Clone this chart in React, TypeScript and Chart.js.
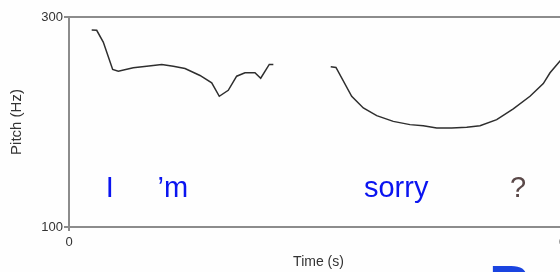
import React, { useEffect, useRef } from "react";
import { Chart, registerables } from "chart.js";

Chart.register(...registerables);

// Contour 1: "I'm"
const timesA = [0.0273, 0.0333, 0.0412, 0.0525, 0.0593, 0.0773, 0.0934, 0.1115, 0.1254, 0.1395, 0.1575, 0.1716, 0.1807, 0.1915, 0.2016, 0.2116, 0.2236, 0.2305, 0.2408, 0.2457];
const pitchA = [287.6, 287.3, 276.1, 250.0, 248.4, 251.6, 253.2, 254.8, 253.2, 251.0, 244.3, 237.3, 224.5, 230.2, 243.6, 246.9, 246.9, 241.7, 254.8, 254.8];

// Contour 2: "sorry?"
const timesB = [0.3147, 0.321, 0.3399, 0.3539, 0.37, 0.3899, 0.41, 0.426, 0.4421, 0.4602, 0.4782, 0.4942, 0.5143, 0.5342, 0.5543, 0.5703, 0.5784, 0.5904, 0.6];
const pitchB = [252.6, 251.9, 224.5, 213.4, 206.1, 200.6, 197.5, 196.5, 194.3, 194.3, 194.9, 196.5, 202.2, 212.5, 224.5, 236.6, 246.9, 258.0, 266.0];

// Word labels (placed in data coordinates: time, pitch at baseline)
const words = ["I", "\u2019m", "sorry", "?"];
const wordTimes = [0.0441, 0.1064, 0.3547, 0.5303];
const wordPitch = [128.7, 128.7, 128.7, 128.7];
const wordColors = ["#0a14f0", "#0a14f0", "#0a14f0", "#5a4848"];

const yTicks = [100, 300];
const xTicks = [0, 0.6];

const FONT = "'Liberation Sans', Arial, sans-serif";

const decorPlugin = {
  id: "decor",
  afterDatasetsDraw(chart: any) {
    const { ctx, chartArea, scales } = chart;
    ctx.save();
    // top frame line
    ctx.strokeStyle = "#8c8c8c";
    ctx.lineWidth = 2;
    ctx.beginPath();
    ctx.moveTo(chartArea.left, chartArea.top);
    ctx.lineTo(chartArea.right, chartArea.top);
    ctx.stroke();
    // word labels
    ctx.font = `29px ${FONT}`;
    ctx.textBaseline = "alphabetic";
    ctx.textAlign = "left";
    words.forEach((w, i) => {
      ctx.fillStyle = wordColors[i];
      ctx.fillText(w, scales.x.getPixelForValue(wordTimes[i]), scales.y.getPixelForValue(wordPitch[i]));
    });
    ctx.restore();
  },
};

export default function App() {
  const ref = useRef<HTMLCanvasElement>(null);
  useEffect(() => {
    const canvas = ref.current!;
    const chart = new Chart(canvas, {
      type: "line",
      data: {
        datasets: [
          {
            data: timesA.map((t, i) => ({ x: t, y: pitchA[i] })),
            borderColor: "#2e2e2e",
            borderWidth: 1.5,
            pointRadius: 0,
            tension: 0,
          },
          {
            data: timesB.map((t, i) => ({ x: t, y: pitchB[i] })),
            borderColor: "#2e2e2e",
            borderWidth: 1.5,
            pointRadius: 0,
            tension: 0,
          },
        ],
      },
      options: {
        responsive: false,
        animation: false,
        devicePixelRatio: 1,
        layout: { padding: { left: 0, top: 17, right: 32, bottom: 0 } },
        plugins: { legend: { display: false }, tooltip: { enabled: false } },
        scales: {
          x: {
            type: "linear",
            min: 0,
            max: 0.6,
            afterBuildTicks: (s: any) => {
              s.ticks = xTicks.map((v) => ({ value: v }));
            },
            afterFit: (s: any) => {
              s.height = 45;
            },
            ticks: {
              color: "#333",
              font: { family: FONT, size: 13 },
              padding: 4,
              maxRotation: 0,
              callback: (v: any) => String(v),
            },
            grid: { drawOnChartArea: false, tickLength: 4, color: "#8c8c8c", lineWidth: 2 },
            border: { display: true, color: "#8c8c8c", width: 2 },
            title: {
              display: true,
              text: "Time (s)",
              color: "#333",
              font: { family: FONT, size: 14 },
              padding: { top: 0, bottom: 1 },
            },
          },
          y: {
            min: 100,
            max: 300,
            afterBuildTicks: (s: any) => {
              s.ticks = yTicks.map((v) => ({ value: v }));
            },
            afterFit: (s: any) => {
              s.width = 69;
            },
            ticks: {
              color: "#333",
              font: { family: FONT, size: 13 },
              padding: 1,
              callback: (v: any) => String(v),
            },
            grid: { drawOnChartArea: false, tickLength: 5, color: "#8c8c8c", lineWidth: 2 },
            border: { display: true, color: "#8c8c8c", width: 2 },
            title: {
              display: true,
              text: "Pitch (Hz)",
              color: "#333",
              font: { family: FONT, size: 15 },
              padding: { top: 8, bottom: 0 },
            },
          },
        },
      },
      plugins: [decorPlugin],
    });
    return () => chart.destroy();
  }, []);

  return (
    <div
      style={{
        position: "fixed",
        left: 0,
        top: 0,
        width: 560,
        height: 272,
        overflow: "hidden",
        background: "#fefefe",
      }}
    >
      <canvas ref={ref} width={600} height={272} style={{ width: 600, height: 272, display: "block" }} />
      <div
        style={{
          position: "absolute",
          left: 489,
          top: 257,
          fontFamily: FONT,
          fontWeight: "bold",
          fontSize: 58,
          lineHeight: "58px",
          color: "#1a44e0",
        }}
      >
        B
      </div>
    </div>
  );
}
